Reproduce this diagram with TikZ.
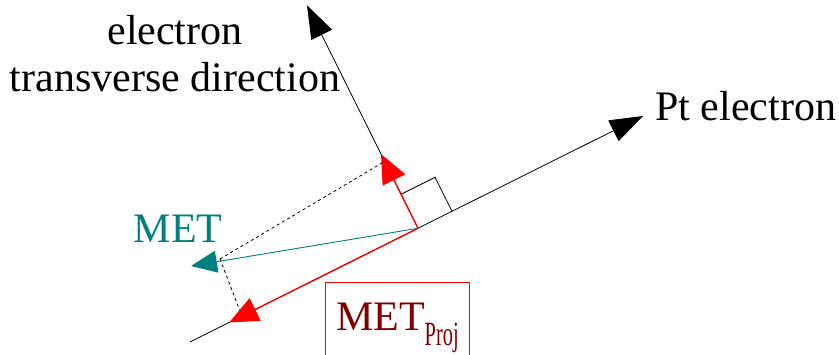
\documentclass[tikz,border=0pt]{standalone}
\usepackage{fontspec}
\setmainfont{LiberationSerif}[Extension=.ttf, UprightFont=*-Regular,
  BoldFont=*-Bold, ItalicFont=*-Italic, BoldItalicFont=*-BoldItalic]
\usetikzlibrary{arrows.meta,calc}

\definecolor{metteal}{RGB}{0,128,128}
\definecolor{projred}{RGB}{128,0,0}

\begin{document}
\begin{tikzpicture}[x=1pt,y=-1pt,
    lbl/.style={font=\fontsize{42}{48}\selectfont, inner sep=0pt, anchor=base},
    axisarr/.style={-{Triangle[length=33pt,width=23pt]}, line width=0.8pt},
    projarr/.style={-{Triangle[length=29pt,width=25pt]}, red, line width=1.3pt},
    metarr/.style={-{Triangle[length=26pt,width=22pt]}, metteal, line width=0.9pt},
    dashline/.style={dashed, line width=0.8pt}
]
\useasboundingbox (0,0) rectangle (839,355);
\clip (0,0) rectangle (839,355);

% axes
\coordinate (ptlow) at (190,342);
\coordinate (pttip) at (643,116);
\coordinate (O) at (418,228.3);
\coordinate (trtip) at (307,5.3);
% projections and MET
\coordinate (trproj) at ($(O)!83pt!(trtip)$);
\coordinate (ptproj) at ($(O)!211pt!(ptlow)$);
\coordinate (met) at (191,266);
\coordinate (metfoot) at (220,259);
\coordinate (trfoot) at (382,163);
\coordinate (ptfoot) at (240,311);

\node[lbl] (elec) at (175,45) {electron};
\node[lbl] (trans) at (175,92) {transverse direction};
\node[lbl, anchor=base west] (ptlbl) at (655,121) {Pt electron};
\node[lbl, text=metteal] (metlbl) at (178,243) {MET};
\node[draw=red, line width=0.8pt, anchor=north west, minimum width=144pt,
      minimum height=90pt, inner sep=0pt, text=projred,
      font=\fontsize{42}{48}\selectfont] (metproj) at (325,282)
      {MET\raisebox{-15pt}{\scalebox{0.6}[1]{\fontsize{34}{40}\selectfont Proj}}};

\draw[axisarr] (ptlow) -- (pttip);
\draw[axisarr] (O) -- (trtip);
\draw[line width=0.8pt] ($(O)!38pt!(trtip)$) -- ++(34,-17) -- ($(O)!38pt!(pttip)$);

\draw[dashline] (metfoot) -- (trfoot);
\draw[dashline] (metfoot) -- (ptfoot);

\draw[metarr] (O) -- (met);
\draw[projarr] (O) -- (trproj);
\draw[projarr] (O) -- (ptproj);
\end{tikzpicture}
\end{document}
